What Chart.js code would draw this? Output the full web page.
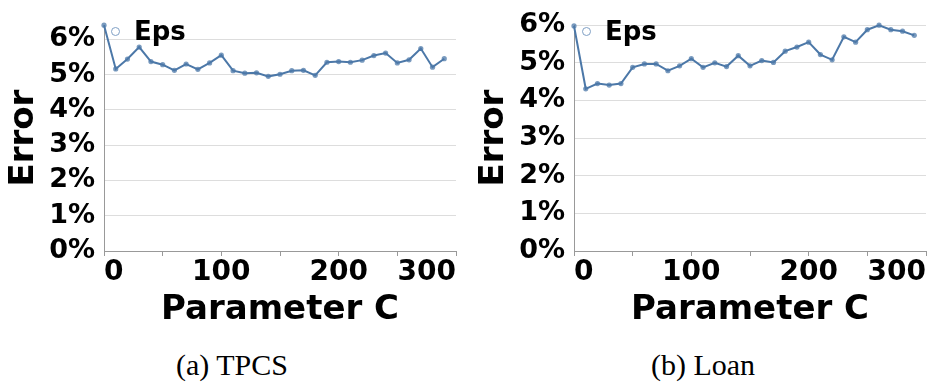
<!DOCTYPE html>
<html>
<head>
<meta charset="utf-8">
<script src="https://cdn.jsdelivr.net/npm/chart.js@4"></script>
<style>
    body { margin: 0; background: #fff; width: 930px; height: 383px; position: relative; overflow: hidden; }
    canvas { position: absolute; top: 0; }
    .legend { position: absolute; top: 16px; font: bold 26px "DejaVu Sans"; color: #000; }
    .legend .dot { display: inline-block; width: 7px; height: 7px; border: 1.6px solid #7f9fc4; border-radius: 50%; margin-right: 14px; vertical-align: 4px; }
    .caption { position: absolute; top: 348px; width: 300px; text-align: center; font: 30px "Liberation Serif"; color: #000; }
</style>
</head>
<body>
<canvas id="tpcs" width="470" height="331" style="left:0px"></canvas>
<canvas id="loan" width="460" height="331" style="left:470px"></canvas>
<div class="legend" style="left:111px"><span class="dot"></span>Eps</div>
<div class="legend" style="left:582px"><span class="dot"></span>Eps</div>
<div class="caption" style="left:82px">(a) TPCS</div>
<div class="caption" style="left:553px">(b) Loan</div>
<script>
// parameter C values on the x axis
var paramC = [0, 10, 20, 30, 40, 50, 60, 70, 80, 90, 100, 110, 120, 130, 140,
    150, 160, 170, 180, 190, 200, 210, 220, 230, 240, 250, 260, 270, 280, 290];

// error in percent
var tpcsError = [6.40, 5.16, 5.44, 5.78, 5.37, 5.28, 5.12, 5.30, 5.15, 5.33,
    5.55, 5.11, 5.04, 5.05, 4.95, 5.01, 5.11, 5.12, 4.98, 5.35,
    5.37, 5.35, 5.41, 5.54, 5.61, 5.33, 5.42, 5.74, 5.21, 5.45];
var loanError = [5.98, 4.31, 4.45, 4.41, 4.45, 4.88, 4.97, 4.97, 4.79, 4.92,
    5.11, 4.88, 5.00, 4.90, 5.19, 4.92, 5.06, 5.01, 5.31, 5.42,
    5.55, 5.22, 5.08, 5.69, 5.55, 5.88, 6.00, 5.88, 5.84, 5.73];

var xTickLabels = [0, 100, 200, 300];
var yTickLabels = [0, 1, 2, 3, 4, 5, 6];

var lineColor = "#4c78a8";

function makeChart(id, values, yMax, padTop, padRight) {
    var points = [];
    values.forEach(function(v, i) {
        points.push({ x: paramC[i], y: v });
    });

    var ctx = document.getElementById(id);
    return new Chart(ctx, {
        type: 'line',
        data: {
            datasets: [{
                label: 'Eps',
                data: points,
                borderColor: lineColor,
                borderWidth: 2,
                pointRadius: 2.6,
                pointBorderWidth: 0,
                pointBackgroundColor: 'rgba(76,120,168,0.75)',
                tension: 0,
                clip: false
            }]
        },
        options: {
            responsive: false,
            animation: false,
            devicePixelRatio: 1,
            layout: { padding: { top: padTop, right: padRight, left: 0, bottom: 0 } },
            plugins: { legend: { display: false }, tooltip: { enabled: false } },
            scales: {
                x: {
                    type: 'linear',
                    min: 0,
                    max: 300,
                    afterFit: function(scale) { scale.height = 331 - 251; },
                    ticks: {
                        stepSize: 50,
                        align: 'inner',
                        maxRotation: 0,
                        autoSkip: false,
                        padding: 0,
                        color: '#000',
                        font: { family: 'DejaVu Sans', weight: 'bold', size: 28 },
                        callback: function(v) {
                            return xTickLabels.indexOf(v) >= 0 ? String(v) : '';
                        }
                    },
                    grid: { drawOnChartArea: false, drawTicks: true, tickLength: 5, color: '#999' },
                    border: { display: true, color: '#999', width: 1 },
                    title: {
                        display: true,
                        text: 'Parameter C',
                        color: '#000',
                        padding: 0,
                        font: { family: 'DejaVu Sans', weight: 'bold', size: 34 }
                    }
                },
                y: {
                    min: 0,
                    max: yMax,
                    afterFit: function(scale) { scale.width = 104; },
                    afterBuildTicks: function(scale) {
                        scale.ticks = yTickLabels.map(function(v) { return { value: v }; });
                    },
                    ticks: {
                        padding: 9,
                        color: '#000',
                        font: { family: 'DejaVu Sans', weight: 'bold', size: 27 },
                        callback: function(v) { return v + '%'; }
                    },
                    grid: { color: '#dddddd', drawTicks: false },
                    border: { display: true, color: '#999', width: 1 },
                    title: {
                        display: true,
                        text: 'Error',
                        color: '#000',
                        padding: { top: 4, bottom: 0 },
                        font: { family: 'DejaVu Sans', weight: 'bold', size: 34 }
                    }
                }
            }
        }
    });
}

makeChart('tpcs', tpcsError, 6.4, 19, 14);
makeChart('loan', loanError, 6, 16, 4);
</script>
</body>
</html>
